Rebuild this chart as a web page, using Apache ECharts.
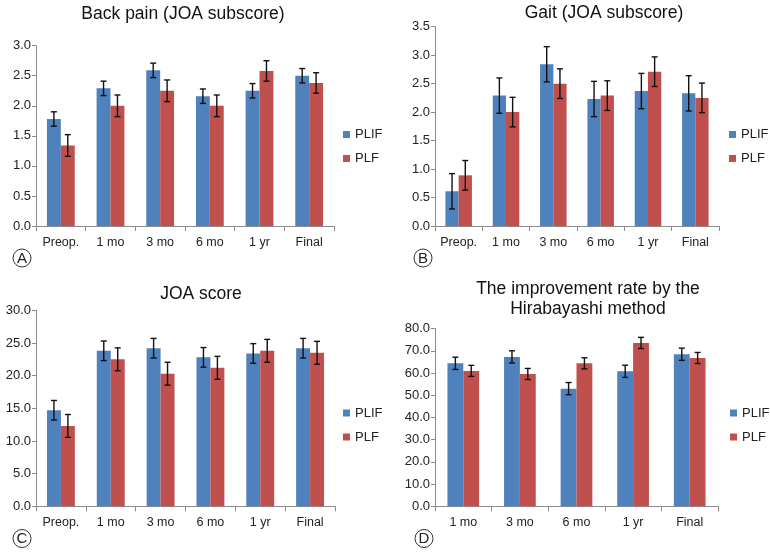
<!DOCTYPE html>
<html>
<head>
<meta charset="utf-8">
<script src="https://cdn.jsdelivr.net/npm/echarts@6/dist/echarts.min.js"></script>
<style>
html,body{margin:0;padding:0;background:#fff;}
#main{width:770px;height:554px;}
</style>
</head>
<body>
<div id="main"></div>
<script>
// ---- data ----
var categories6 = ['Preop.', '1 mo', '3 mo', '6 mo', '1 yr', 'Final'];
var categories5 = ['1 mo', '3 mo', '6 mo', '1 yr', 'Final'];
var seriesNames = ['PLIF', 'PLF'];
var titles = ['Back pain (JOA subscore)', 'Gait (JOA subscore)', 'JOA score', 'The improvement rate by the\nHirabayashi method'];
var panelLetters = ['A', 'B', 'C', 'D'];

var backPainPLIF = [1.78, 2.29, 2.59, 2.16, 2.25, 2.50];
var backPainPLIFErr = [0.12, 0.12, 0.12, 0.12, 0.12, 0.12];
var backPainPLF = [1.34, 2.00, 2.25, 2.00, 2.58, 2.38];
var backPainPLFErr = [0.18, 0.18, 0.18, 0.18, 0.17, 0.17];

var gaitPLIF = [0.61, 2.29, 2.84, 2.23, 2.37, 2.33];
var gaitPLIFErr = [0.31, 0.31, 0.31, 0.31, 0.31, 0.31];
var gaitPLF = [0.89, 2.00, 2.50, 2.29, 2.71, 2.25];
var gaitPLFErr = [0.26, 0.26, 0.26, 0.26, 0.26, 0.26];

var joaPLIF = [14.7, 23.8, 24.2, 22.8, 23.4, 24.2];
var joaPLIFErr = [1.5, 1.5, 1.5, 1.5, 1.5, 1.5];
var joaPLF = [12.3, 22.5, 20.3, 21.2, 23.8, 23.5];
var joaPLFErr = [1.75, 1.75, 1.75, 1.75, 1.75, 1.75];

var ratePLIF = [64.4, 67.3, 53.0, 60.8, 68.5];
var ratePLIFErr = [2.75, 2.75, 2.75, 2.75, 2.75];
var ratePLF = [61.0, 59.6, 64.4, 73.6, 66.8];
var ratePLFErr = [2.5, 2.5, 2.5, 2.5, 2.5];

var yTicksMax = [3.0, 3.5, 30.0, 80.0];
var yTicksInterval = [0.5, 0.5, 5, 10];

// ---- layout / style ----
var FONT = 'Liberation Sans, Arial, sans-serif';
var BLUE = '#4F81BD';
var RED = '#C0504D';
var AXIS = '#8c8c8c';
var BAR_FRAC = 0.28;

var panels = [
  {cats: categories6, a: backPainPLIF, ae: backPainPLIFErr, b: backPainPLF, be: backPainPLFErr,
   grid: {left: 36, top: 45.7, width: 298, height: 180.3},
   title: {x: 183, y: 14}, legend: {left: 343, top: 127},
   letter: {x: 22, y: 258}},
  {cats: categories6, a: gaitPLIF, ae: gaitPLIFErr, b: gaitPLF, be: gaitPLFErr,
   grid: {left: 435, top: 26.7, width: 284, height: 199.3},
   title: {x: 604, y: 13.5}, legend: {left: 729, top: 127},
   letter: {x: 423, y: 258}},
  {cats: categories6, a: joaPLIF, ae: joaPLIFErr, b: joaPLF, be: joaPLFErr,
   grid: {left: 36, top: 310.3, width: 299, height: 196},
   title: {x: 201, y: 294}, legend: {left: 343, top: 405.5},
   letter: {x: 22, y: 538.5}},
  {cats: categories5, a: ratePLIF, ae: ratePLIFErr, b: ratePLF, be: ratePLFErr,
   grid: {left: 435, top: 328.7, width: 283, height: 177.6},
   title: {x: 588, y: 299.5}, legend: {left: 730, top: 405.5},
   letter: {x: 424, y: 538.5}}
];

function errData(vals, errs) {
  return vals.map(function (v, i) { return [i, v - errs[i], v + errs[i]]; });
}

function errRender(offsetSign) {
  return function (params, api) {
    var idx = api.value(0);
    var lo = api.coord([idx, api.value(1)]);
    var hi = api.coord([idx, api.value(2)]);
    var cw = api.size([1, 0])[0];
    var x = lo[0] + offsetSign * cw * BAR_FRAC / 2;
    var cap = 3;
    var st = {stroke: '#111', lineWidth: 1.4, fill: null};
    return {
      type: 'group',
      children: [
        {type: 'line', shape: {x1: x, y1: lo[1], x2: x, y2: hi[1]}, style: st},
        {type: 'line', shape: {x1: x - cap, y1: lo[1], x2: x + cap, y2: lo[1]}, style: st},
        {type: 'line', shape: {x1: x - cap, y1: hi[1], x2: x + cap, y2: hi[1]}, style: st}
      ]
    };
  };
}

var grids = [], xAxes = [], yAxes = [], series = [], legends = [], graphics = [];

panels.forEach(function (p, k) {
  grids.push(Object.assign({containLabel: false}, p.grid));
  xAxes.push({
    type: 'category', gridIndex: k, data: p.cats,
    axisLine: {lineStyle: {color: AXIS, width: 1}},
    axisTick: {show: true, length: 5, lineStyle: {color: AXIS}},
    axisLabel: {color: '#222', fontFamily: FONT, fontSize: 12.5, margin: 10, interval: 0, hideOverlap: false}
  });
  yAxes.push({
    type: 'value', gridIndex: k, min: 0, max: yTicksMax[k], interval: yTicksInterval[k],
    axisLine: {show: true, lineStyle: {color: AXIS, width: 1}},
    axisTick: {show: true, length: 4, lineStyle: {color: AXIS}},
    splitLine: {show: false},
    axisLabel: {color: '#222', fontFamily: FONT, fontSize: 13, margin: 5,
      formatter: function (v) { return v.toFixed(1); }}
  });
  series.push({
    name: seriesNames[0], type: 'bar', xAxisIndex: k, yAxisIndex: k, data: p.a,
    barWidth: (BAR_FRAC * 100) + '%', barGap: '0%', itemStyle: {color: BLUE}, animation: false
  });
  series.push({
    name: seriesNames[1], type: 'bar', xAxisIndex: k, yAxisIndex: k, data: p.b,
    barWidth: (BAR_FRAC * 100) + '%', barGap: '0%', itemStyle: {color: RED}, animation: false
  });
  series.push({
    type: 'custom', xAxisIndex: k, yAxisIndex: k, data: errData(p.a, p.ae),
    renderItem: errRender(-1), z: 5, silent: true, animation: false
  });
  series.push({
    type: 'custom', xAxisIndex: k, yAxisIndex: k, data: errData(p.b, p.be),
    renderItem: errRender(1), z: 5, silent: true, animation: false
  });
  legends.push({
    orient: 'vertical', left: p.legend.left, top: p.legend.top,
    data: seriesNames, icon: 'rect', itemWidth: 7, itemHeight: 7, itemGap: 9,
    textStyle: {fontFamily: FONT, fontSize: 13, color: '#222', lineHeight: 15},
    selectedMode: false, padding: 0
  });
  graphics.push({
    type: 'text', x: p.title.x, y: p.title.y,
    style: {text: titles[k], font: '17.5px ' + FONT, fill: '#111',
      textAlign: 'center', textVerticalAlign: 'middle', lineHeight: 20}
  });
  graphics.push({
    type: 'circle', shape: {cx: p.letter.x, cy: p.letter.y, r: 9},
    style: {fill: '#fff', stroke: '#333', lineWidth: 1}
  });
  graphics.push({
    type: 'text', x: p.letter.x, y: p.letter.y + 0.5,
    style: {text: panelLetters[k], font: '15px ' + FONT, fill: '#222',
      textAlign: 'center', textVerticalAlign: 'middle'}
  });
});

var chart = echarts.init(document.getElementById('main'), null, {renderer: 'canvas'});
chart.setOption({
  animation: false,
  backgroundColor: '#fff',
  grid: grids,
  xAxis: xAxes,
  yAxis: yAxes,
  legend: legends,
  series: series,
  graphic: graphics
});
</script>
</body>
</html>
